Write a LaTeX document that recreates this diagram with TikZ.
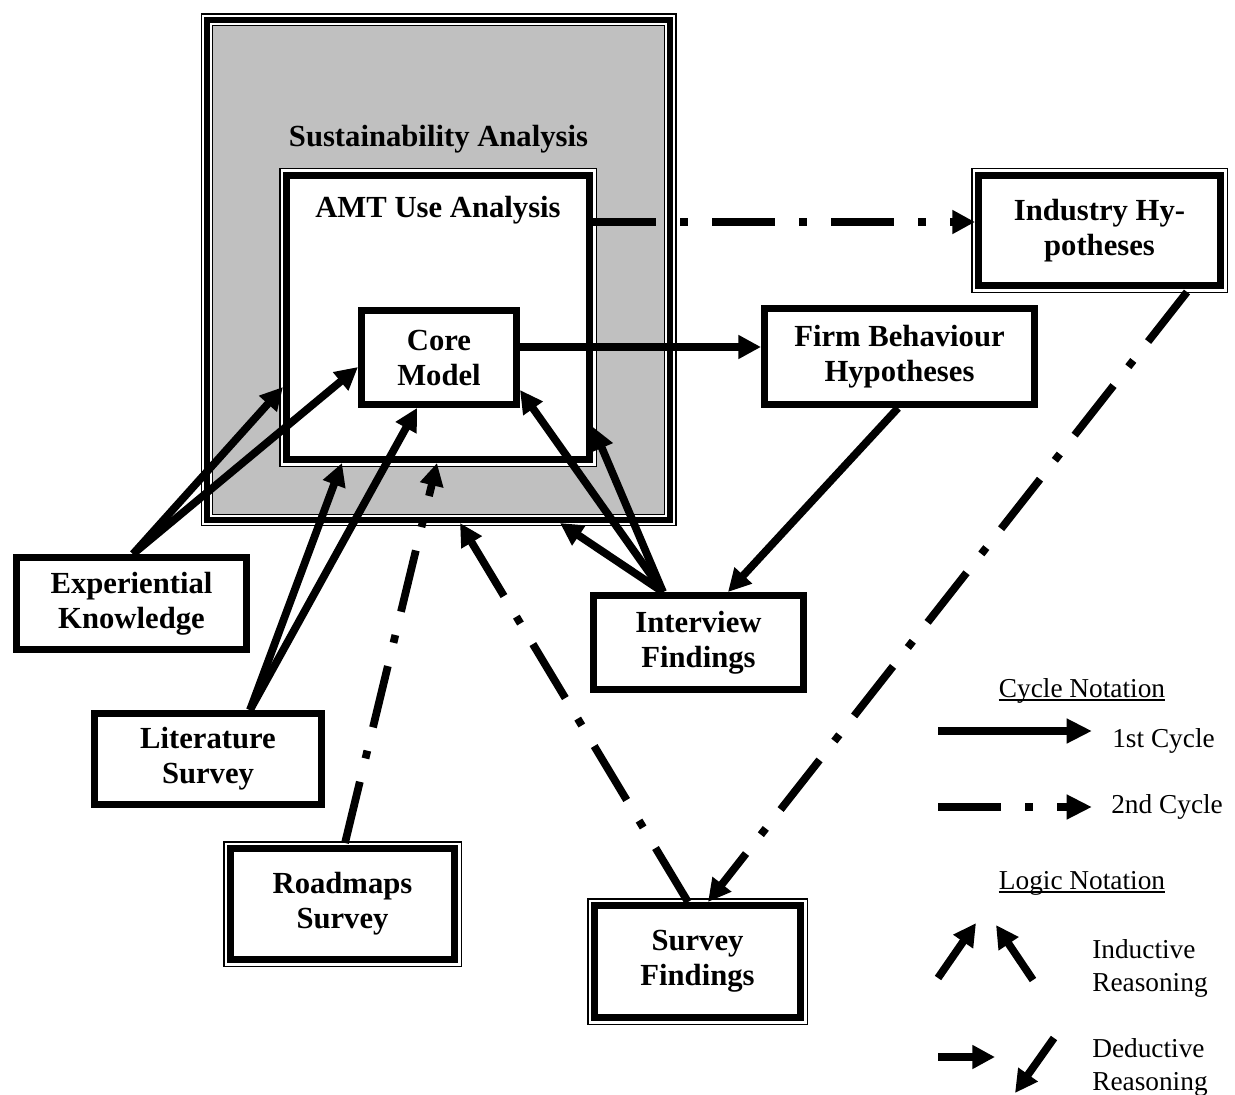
\documentclass[tikz,border=0pt]{standalone}
\usepackage{fontspec}
\setmainfont{Liberation Serif}
\usetikzlibrary{arrows.meta,calc}
\definecolor{panelgray}{RGB}{192,192,192}

\tikzset{
  boxtext/.style={font=\fontsize{23}{26.25}\selectfont\bfseries, align=center, inner sep=0pt},
  legendtext/.style={font=\fontsize{20.5}{24.75}\selectfont, align=left, inner sep=0pt},
  % single heavy frame
  plainbox/.style={boxtext, draw=black, line width=5.25pt, fill=white, outer sep=2.625pt},
  % heavy frame with a thin hairline just outside it
  framedbox/.style={plainbox,
    preaction={draw=black, fill=none, line width=11.25pt},
    preaction={draw=white, fill=none, line width=9pt}},
  % heavy frame with hairlines on both sides (inner one drawn separately)
  sustbox/.style={draw=black, line width=4.5pt, fill=white, outer sep=2.25pt, inner sep=0pt,
    preaction={draw=black, fill=none, line width=9.75pt},
    preaction={draw=white, fill=none, line width=7.5pt}},
  link/.style={line width=5.8pt, line cap=butt, -{Triangle[length=17pt,width=17pt]}},
  cycletwo/.style={link, dash pattern=on 47.25pt off 18pt on 6pt off 18pt},
  rule/.style={line width=1.1pt},
}

\begin{document}
\begin{tikzpicture}[x=0.75pt,y=-0.75pt]
\useasboundingbox (0,0) rectangle (1235,1095);

% containers
\node[sustbox, minimum width=347.25pt, minimum height=375.2pt] (sust) at (438.5,269.85) {};
\path[draw=black, line width=1.1pt, fill=panelgray]
  ($(sust.north west)+(8.75,8.75)$) rectangle ($(sust.south east)+(-8.75,-8.75)$);
\node[boxtext, anchor=base] (susttitle) at (438.5,147) {Sustainability Analysis};

\node[framedbox, minimum width=227.25pt, minimum height=213pt] (amt) at (438,317.5) {};
\node[boxtext, anchor=base] (amttitle) at (438,218) {AMT Use Analysis};

% boxes
\node[plainbox, minimum width=116.25pt, minimum height=70.5pt] (core) at (439,357.5) {Core\\Model};
\node[plainbox, minimum width=202.5pt, minimum height=72pt] (firm) at (899.5,356.5) {Firm Behaviour\\Hypotheses};
\node[framedbox, minimum width=181.5pt, minimum height=82.5pt] (ind) at (1099.5,230.5) {Industry Hy-\\potheses};
\node[plainbox, minimum width=172.5pt, minimum height=69pt] (exp) at (131.5,603.5) {Experiential\\Knowledge};
\node[plainbox, minimum width=157.5pt, minimum height=70.5pt] (int) at (698.5,642.5) {Interview\\Findings};
\node[plainbox, minimum width=170.25pt, minimum height=68.25pt] (lit) at (208,759) {Literature\\Survey};
\node[framedbox, minimum width=168pt, minimum height=83.25pt] (road) at (342.5,904) {Roadmaps\\Survey};
\node[framedbox, minimum width=154.5pt, minimum height=84pt] (surv) at (697.5,961.5) {Survey\\Findings};

% first cycle
\draw[link] ($(core.east)+(0,-10.5)$) -- ($(firm.west)+(0,-9.5)$);
\draw[link] ($(firm.south)+(-1.5,0)$) -- ($(int.north)+(29.5,0)$);
\draw[link] ($(exp.north)+(1.5,0)$) -- ($(amt.west)+(0,69.5)$);
\draw[link] ($(exp.north)+(1.5,0)$) -- ($(core.west)+(0,9.5)$);
\draw[link] ($(lit.north)+(42,0)$) -- ($(amt.south)+(-96,0)$);
\draw[link] ($(lit.north)+(42,0)$) -- ($(core.south)+(-22,0)$);
\draw[link] ($(int.north)+(-35.5,0)$) -- ($(core.east)+(0,32.5)$);
\draw[link] ($(int.north)+(-35.5,0)$) -- ($(amt.east)+(0,109.5)$);
\draw[link] ($(int.north)+(-35.5,0)$) -- ($(sust.south)+(121.5,0)$);

% second cycle
\draw[cycletwo] ($(amt.east)+(0,-95.5)$) -- ($(ind.west)+(0,-8.5)$);
\draw[cycletwo] ($(ind.south)+(87.5,3)$) -- ($(surv.north)+(10.5,0)$);
\draw[cycletwo] ($(road.north)+(2.5,-2)$) -- ($(amt.south)+(-1,0)$);
\draw[cycletwo] ($(surv.north)+(-9.5,0)$) -- ($(sust.south)+(21.5,0)$);

% legend
\node[legendtext, anchor=base] (cyclenote) at (1082,697) {Cycle Notation};
\draw[rule] ($(cyclenote.base west)+(0,3)$) -- ($(cyclenote.base east)+(0,3)$);
\coordinate (c1a) at (938,731); \coordinate (c1b) at (1092,731);
\draw[link, -{Triangle[length=19pt,width=17.5pt]}] (c1a) -- (c1b);
\node[legendtext, anchor=base west] (c1t) at (1112,747) {1st Cycle};
\coordinate (c2a) at (938,807); \coordinate (c2b) at (1092,807);
\draw[cycletwo, -{Triangle[length=19pt,width=17.5pt]}] (c2a) -- (c2b);
\node[legendtext, anchor=base west] (c2t) at (1111,813) {2nd Cycle};

\node[legendtext, anchor=base] (logicnote) at (1082,889) {Logic Notation};
\draw[rule] ($(logicnote.base west)+(0,3)$) -- ($(logicnote.base east)+(0,3)$);
\coordinate (i1a) at (938,978); \coordinate (i1b) at (976,923);
\coordinate (i2a) at (1033,980); \coordinate (i2b) at (996,925);
\draw[link] (i1a) -- (i1b);
\draw[link] (i2a) -- (i2b);
\node[legendtext, anchor=west] (indt) at (1092,968) {Inductive\\Reasoning};
\coordinate (d1a) at (938,1057); \coordinate (d1b) at (995,1057);
\coordinate (d2a) at (1054,1038); \coordinate (d2b) at (1015,1093);
\draw[link] (d1a) -- (d1b);
\draw[link] (d2a) -- (d2b);
\node[legendtext, anchor=west] (dedt) at (1092,1067) {Deductive\\Reasoning};
\end{tikzpicture}
\end{document}
